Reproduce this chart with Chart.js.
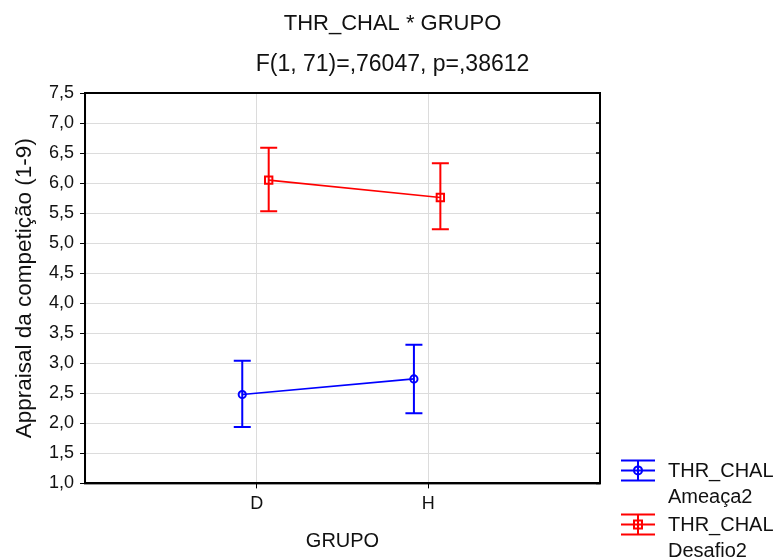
<!DOCTYPE html>
<html>
<head>
<meta charset="utf-8">
<script src="https://cdn.jsdelivr.net/npm/chart.js@4/dist/chart.umd.min.js"></script>
<style>
  html, body { margin: 0; padding: 0; background: #fff; }
  #wrap { width: 774px; height: 557px; }
</style>
</head>
<body>
<div id="wrap"><canvas id="chartGrupo" width="774" height="557"></canvas></div>
<script>
// valores
const categories = ['D', 'H'];
const yTicks = [1.0, 1.5, 2.0, 2.5, 3.0, 3.5, 4.0, 4.5, 5.0, 5.5, 6.0, 6.5, 7.0, 7.5];

const ameacaMean = [2.48, 2.74];
const ameacaLow = [1.94, 2.17];
const ameacaHigh = [3.04, 3.31];

const desafioMean = [6.05, 5.76];
const desafioLow = [5.53, 5.23];
const desafioHigh = [6.59, 6.33];

const seriesNames = [['THR_CHAL', 'Ameaça2'], ['THR_CHAL', 'Desafio2']];
const FONT = '"Liberation Sans", Arial, sans-serif';

// deslocamento horizontal de cada serie dentro da categoria
const shiftAmeaca = -0.084;
const shiftDesafio = 0.07;

const toPoints = (means, low, high, shift) =>
  means.map((m, i) => ({ x: i + 1 + shift, y: m, lo: low[i], hi: high[i] }));

const errorBars = {
  id: 'errorBars',
  afterDatasetsDraw(chart) {
    const ctx = chart.ctx;
    const xs = chart.scales.x, ys = chart.scales.y;
    chart.data.datasets.forEach(ds => {
      ctx.save();
      ctx.strokeStyle = ds.borderColor;
      ctx.lineWidth = 2;
      ds.data.forEach(p => {
        const px = xs.getPixelForValue(p.x);
        const top = ys.getPixelForValue(p.hi);
        const bot = ys.getPixelForValue(p.lo);
        ctx.beginPath();
        ctx.moveTo(px, top); ctx.lineTo(px, bot);
        ctx.moveTo(px - 8.5, top); ctx.lineTo(px + 8.5, top);
        ctx.moveTo(px - 8.5, bot); ctx.lineTo(px + 8.5, bot);
        ctx.stroke();
      });
      ctx.restore();
    });
  }
};

const frame = {
  id: 'frame',
  afterDraw(chart) {
    const { ctx, chartArea: a } = chart;
    const ys = chart.scales.y;
    ctx.save();
    ctx.strokeStyle = '#000';
    ctx.lineWidth = 2;
    ctx.strokeRect(a.left, a.top, a.right - a.left, a.bottom - a.top);
    // marcas internas no lado direito
    ctx.lineWidth = 1.5;
    ctx.beginPath();
    yTicks.forEach(v => {
      const py = ys.getPixelForValue(v);
      ctx.moveTo(a.right - 4, py); ctx.lineTo(a.right, py);
    });
    ctx.stroke();
    ctx.restore();
  }
};

const sideLegend = {
  id: 'sideLegend',
  afterDraw(chart) {
    const { ctx, chartArea: a } = chart;
    const x0 = a.right + 21, w = 34;
    const rows = [a.bottom - 13, a.bottom + 41];
    ctx.save();
    chart.data.datasets.forEach((ds, i) => {
      const cy = rows[i];
      const cx = x0 + w / 2;
      ctx.strokeStyle = ds.borderColor;
      ctx.lineWidth = 2;
      ctx.beginPath();
      ctx.moveTo(x0, cy - 10); ctx.lineTo(x0 + w, cy - 10);
      ctx.moveTo(x0, cy); ctx.lineTo(x0 + w, cy);
      ctx.moveTo(x0, cy + 10); ctx.lineTo(x0 + w, cy + 10);
      ctx.moveTo(cx, cy - 10); ctx.lineTo(cx, cy + 10);
      ctx.stroke();
      ctx.beginPath();
      if (ds.pointStyle === 'rect') ctx.rect(cx - 4, cy - 4, 8, 8);
      else ctx.arc(cx, cy, 4, 0, Math.PI * 2);
      ctx.stroke();
      ctx.fillStyle = '#111';
      ctx.font = '20px ' + FONT;
      ctx.textBaseline = 'middle';
      ctx.fillText(seriesNames[i][0], x0 + w + 13, cy + 1);
      ctx.fillText(seriesNames[i][1], x0 + w + 13, cy + 27);
    });
    ctx.restore();
  }
};

new Chart(document.getElementById('chartGrupo'), {
  type: 'scatter',
  data: {
    datasets: [
      {
        label: seriesNames[0].join(' '),
        data: toPoints(ameacaMean, ameacaLow, ameacaHigh, shiftAmeaca),
        showLine: true,
        borderColor: '#0000ff',
        borderWidth: 1.6,
        pointStyle: 'circle',
        pointRadius: 3.6,
        pointBorderWidth: 2,
        pointBackgroundColor: 'rgba(255,255,255,0)'
      },
      {
        label: seriesNames[1].join(' '),
        data: toPoints(desafioMean, desafioLow, desafioHigh, shiftDesafio),
        showLine: true,
        borderColor: '#ff0000',
        borderWidth: 1.6,
        pointStyle: 'rect',
        pointRadius: 5.2,
        pointBorderWidth: 2,
        pointBackgroundColor: 'rgba(255,255,255,0)'
      }
    ]
  },
  options: {
    responsive: false,
    animation: false,
    layout: { padding: { left: 11, right: 0, top: 6, bottom: 0 } },
    plugins: {
      legend: { display: false },
      tooltip: { enabled: false },
      title: {
        display: true,
        text: 'THR_CHAL * GRUPO',
        color: '#111',
        font: { family: FONT, size: 22, weight: 'normal' },
        padding: { top: 5, bottom: 13 }
      },
      subtitle: {
        display: true,
        text: 'F(1, 71)=,76047, p=,38612',
        color: '#111',
        font: { family: FONT, size: 23, weight: 'normal' },
        padding: { bottom: 15 }
      }
    },
    scales: {
      x: {
        type: 'linear',
        min: 0,
        max: 3,
        afterBuildTicks: axis => { axis.ticks = [1, 2].map(v => ({ value: v })); },
        ticks: {
          color: '#111',
          font: { family: FONT, size: 18 },
          padding: 5,
          callback: v => categories[v - 1] || ''
        },
        grid: { color: '#dcdcdc', tickColor: '#000', tickLength: 5, lineWidth: 1 },
        border: { display: true, color: '#000', width: 2 },
        title: {
          display: true,
          text: 'GRUPO',
          color: '#111',
          font: { family: FONT, size: 20 },
          padding: { top: 9 }
        }
      },
      y: {
        min: 1,
        max: 7.5,
        afterBuildTicks: axis => { axis.ticks = yTicks.map(v => ({ value: v })); },
        ticks: {
          color: '#111',
          font: { family: FONT, size: 18 },
          padding: 6,
          callback: v => v.toFixed(1).replace('.', ',')
        },
        grid: { color: '#dcdcdc', tickColor: '#000', tickLength: 5, lineWidth: 1 },
        border: { display: true, color: '#000', width: 2 },
        title: {
          display: true,
          text: 'Appraisal da competição (1-9)',
          color: '#111',
          font: { family: FONT, size: 22.5 },
          padding: { top: 0, bottom: 5 }
        }
      },
      // espaco reservado para a legenda a direita
      legendSpace: {
        type: 'linear',
        position: 'right',
        display: true,
        min: 0,
        max: 1,
        ticks: { display: false },
        grid: { display: false },
        border: { display: false },
        afterFit: scale => { scale.width = 174; }
      }
    }
  },
  plugins: [errorBars, frame, sideLegend]
});
</script>
</body>
</html>
